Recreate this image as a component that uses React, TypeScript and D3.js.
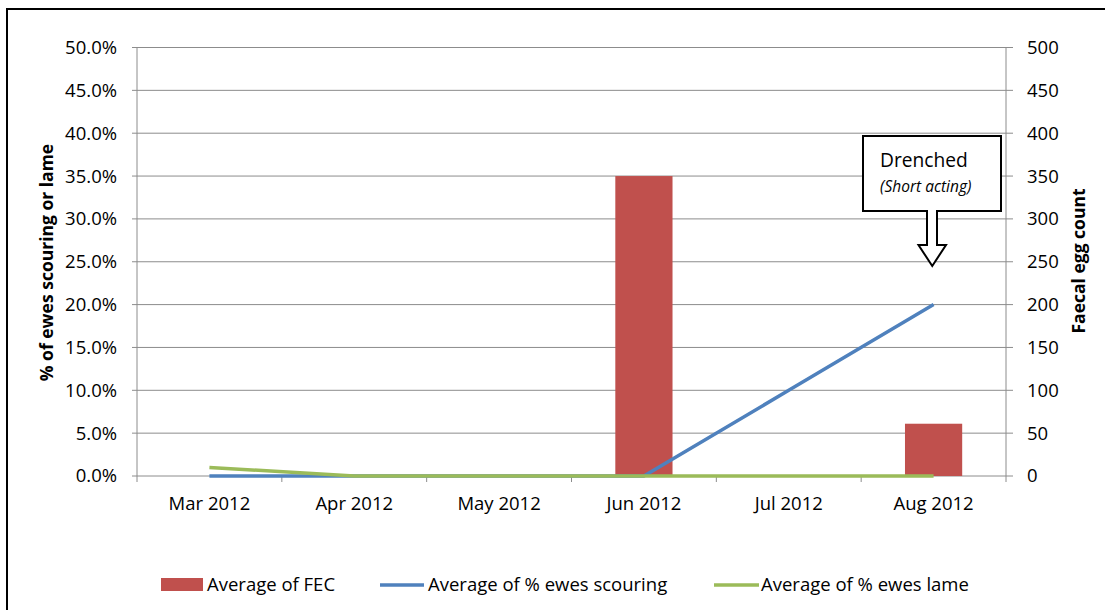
import React from "react";
import * as d3 from "d3";

const months = ["Mar 2012", "Apr 2012", "May 2012", "Jun 2012", "Jul 2012", "Aug 2012"];
const fecValues: (number | null)[] = [null, null, null, 350, null, 61];
const scouringValues = [0, 0, 0, 0, 0.1, 0.2];
const lameValues = [0.01, 0, 0, 0, 0, 0];
const leftTicks = [0, 0.05, 0.1, 0.15, 0.2, 0.25, 0.3, 0.35, 0.4, 0.45, 0.5];
const rightTicks = [0, 50, 100, 150, 200, 250, 300, 350, 400, 450, 500];

const W = 1105;
const H = 610;
const plot = { left: 137, right: 1006, top: 47.5, bottom: 476 };
const FONT = "'Open Sans', 'Liberation Sans', sans-serif";
const RED = "#C0504D";
const BLUE = "#4F81BD";
const GREEN = "#9BBB59";
const GRID = "#8C8C8C";

export default function App() {
  const x = d3.scaleBand<string>().domain(months).range([plot.left, plot.right]).paddingInner(0).paddingOuter(0);
  const yLeft = d3.scaleLinear().domain([0, 0.5]).range([plot.bottom, plot.top]);
  const yRight = d3.scaleLinear().domain([0, 500]).range([plot.bottom, plot.top]);
  const bw = x.bandwidth();
  const barW = bw * 0.395;
  const cx = (m: string) => (x(m) as number) + bw / 2;

  const line = d3
    .line<number>()
    .x((_, i) => cx(months[i]))
    .y((d) => yLeft(d));

  const fmt = d3.format(".1%");

  // Callout box with a down-pointing arrow
  const bx0 = 863, bx1 = 1001, by0 = 136, by1 = 211;
  const sx0 = 927, sx1 = 937, sy = 245, hx0 = 918.5, hx1 = 946, tipY = 266;
  const tipX = (hx0 + hx1) / 2;
  const callout = [
    `M${bx0},${by0}`, `L${bx1},${by0}`, `L${bx1},${by1}`, `L${sx1},${by1}`, `L${sx1},${sy}`,
    `L${hx1},${sy}`, `L${tipX},${tipY}`, `L${hx0},${sy}`, `L${sx0},${sy}`, `L${sx0},${by1}`,
    `L${bx0},${by1}`, "Z",
  ].join(" ");

  const legendY = 585;

  return (
    <svg
      width={W}
      height={H}
      style={{ position: "absolute", left: 0, top: 0, background: "#fff" }}
      fontFamily={FONT}
    >
      <rect x={0} y={0} width={W} height={H} fill="#fff" />
      <rect x={7} y={9} width={W + 20} height={H + 20} fill="none" stroke="#000" strokeWidth={2} />

      {/* horizontal gridlines and left ticks */}
      {leftTicks.map((t) => (
        <g key={t}>
          <line x1={plot.left - 5} x2={plot.right} y1={yLeft(t)} y2={yLeft(t)} stroke={GRID} strokeWidth={1} />
          <text x={117} y={yLeft(t)} dy="0.35em" textAnchor="end" fontSize={18.5} fill="#000">
            {fmt(t)}
          </text>
        </g>
      ))}
      {rightTicks.map((t) => (
        <g key={t}>
          <line x1={plot.right} x2={plot.right + 7} y1={yRight(t)} y2={yRight(t)} stroke={GRID} strokeWidth={1} />
          <text x={1027} y={yRight(t)} dy="0.35em" textAnchor="start" fontSize={18.5} fill="#000">
            {t}
          </text>
        </g>
      ))}

      {/* axis lines */}
      <line x1={plot.left} x2={plot.left} y1={plot.top} y2={plot.bottom + 6} stroke={GRID} />
      <line x1={plot.right} x2={plot.right} y1={plot.top} y2={plot.bottom} stroke={GRID} />
      {months.map((m, i) =>
        i === 0 ? null : (
          <line key={m} x1={x(m)} x2={x(m)} y1={plot.bottom} y2={plot.bottom + 6} stroke={GRID} />
        )
      )}
      <line x1={plot.right} x2={plot.right} y1={plot.bottom} y2={plot.bottom + 6} stroke={GRID} />

      {/* category labels */}
      {months.map((m) => (
        <text key={m} x={cx(m)} y={510} textAnchor="middle" fontSize={18.5} fill="#000">
          {m}
        </text>
      ))}

      {/* FEC bars on the right axis */}
      {fecValues.map((v, i) =>
        v == null ? null : (
          <rect
            key={months[i]}
            x={cx(months[i]) - barW / 2}
            y={yRight(v)}
            width={barW}
            height={yRight(0) - yRight(v)}
            fill={RED}
          />
        )
      )}

      {/* lines on the left axis */}
      <path d={line(scouringValues) as string} fill="none" stroke={BLUE} strokeWidth={3.5} strokeLinejoin="round" />
      <path d={line(lameValues) as string} fill="none" stroke={GREEN} strokeWidth={3.5} strokeLinejoin="round" />

      {/* axis titles */}
      <text
        transform={`translate(53,262.5) rotate(-90)`}
        textAnchor="middle"
        fontSize={17.5}
        fontWeight="bold"
        fill="#000"
      >
        % of ewes scouring or lame
      </text>
      <text
        transform={`translate(1084.5,261) rotate(-90)`}
        textAnchor="middle"
        fontSize={17.5}
        fontWeight="bold"
        fill="#000"
      >
        Faecal egg count
      </text>

      {/* annotation */}
      <path d={callout} fill="#fff" stroke="#000" strokeWidth={2} strokeLinejoin="miter" />
      <text x={880} y={166.5} fontSize={19.2} fill="#000">
        Drenched
      </text>
      <text x={880} y={191.5} fontSize={15.5} fontStyle="italic" fill="#000">
        (Short acting)
      </text>

      {/* legend */}
      <rect x={161} y={legendY - 7} width={42} height={13} fill={RED} />
      <text x={207} y={legendY} dy="0.35em" fontSize={18.5} fill="#000">
        Average of FEC
      </text>
      <line x1={380} x2={424} y1={legendY} y2={legendY} stroke={BLUE} strokeWidth={3.5} />
      <text x={428} y={legendY} dy="0.35em" fontSize={18.5} fill="#000">
        Average of % ewes scouring
      </text>
      <line x1={714} x2={759} y1={legendY} y2={legendY} stroke={GREEN} strokeWidth={3.5} />
      <text x={761} y={legendY} dy="0.35em" fontSize={18.5} fill="#000">
        Average of % ewes lame
      </text>
    </svg>
  );
}
